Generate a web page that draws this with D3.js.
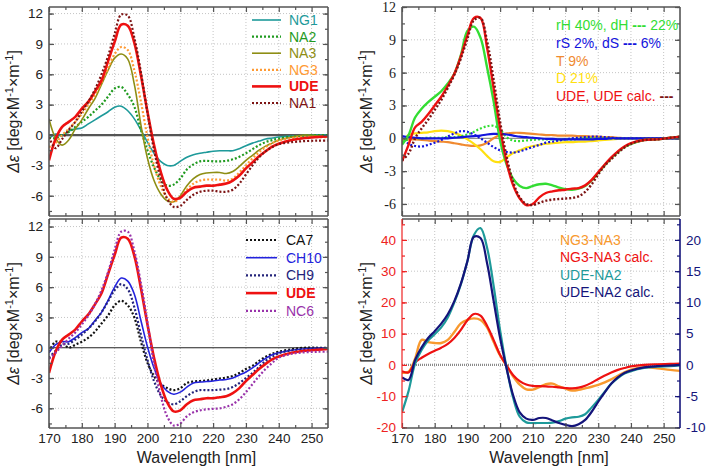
<!DOCTYPE html>
<html>
<head>
<meta charset="utf-8">
<title>CD spectra</title>
<script src="https://cdnjs.cloudflare.com/ajax/libs/d3/7.8.5/d3.min.js"></script>
<style>
    body { margin: 0; background: #fff; }
    svg { display: block; font-family: "Liberation Sans", Arial, sans-serif; }
</style>
</head>
<body>
<svg id="chart" width="706" height="470"></svg>
<script>
// wavelength grid (nm) shared by every series
const WL = [170,172,174,176,178,180,182,184,186,188,190,192,194,196,198,200,202,204,206,208,
            210,212,214,216,218,220,222,224,226,228,230,232,234,236,238,240,244,248,252,255];

// top left panel
const NG1 = [-0.4,0.1,-0.1,0.4,0.6,0.7,1.1,1.5,1.9,2.3, 2.75,2.85,2.4,1.6,0.5,-0.7,-1.8,-2.6,-3.0,-3.0,
             -2.6,-2.2,-1.95,-1.8,-1.7,-1.6,-1.55,-1.55,-1.55,-1.35, -1.05,-0.8,-0.6,-0.4,-0.3,-0.2,-0.1,-0.05,0,0];
const NA2 = [-0.3,-0.3,0.0,0.3,0.8,1.3,1.8,2.4,3.0,3.8, 4.6,4.75,4.0,2.8,0.5,-1.5,-3.2,-4.4,-5.0,-4.9,
             -4.3,-3.4,-2.9,-2.6,-2.55,-2.6,-2.6,-2.55,-2.4,-2.15, -1.8,-1.4,-1.0,-0.7,-0.5,-0.35,-0.15,-0.05,0,0];
const NA3 = [1.6,-0.3,-1.0,-0.5,0.6,1.5,2.6,3.6,5.0,6.4, 7.6,8.0,7.5,5.0,1.0,-2.3,-4.5,-5.8,-6.5,-6.6,
             -6.0,-5.0,-4.3,-3.9,-3.75,-3.7,-3.7,-3.8,-3.6,-3.1, -2.5,-2.0,-1.5,-1.1,-0.8,-0.5,-0.2,0.0,-0.1,-0.15];
const NG3 = [-1.2,-0.8,0.0,0.6,1.3,2.1,3.0,4.0,5.2,6.6, 8.0,8.7,8.4,6.4,3.3,-0.2,-3.0,-5.0,-6.2,-6.6,
             -6.2,-5.4,-4.8,-4.5,-4.4,-4.4,-4.4,-4.5,-4.3,-3.7, -3.0,-2.3,-1.7,-1.2,-0.8,-0.55,-0.3,-0.2,-0.2,-0.2];
const UDE = [-2.5,-0.4,0.8,1.3,1.8,2.6,3.3,4.3,5.4,7.3, 9.2,10.9,10.8,9.1,5.9,2.3,-1.0,-3.6,-5.4,-6.3,
             -6.2,-5.6,-5.2,-5.1,-5.0,-5.0,-4.9,-4.8,-4.5,-4.0, -3.3,-2.7,-2.1,-1.6,-1.15,-0.86,-0.5,-0.3,-0.2,-0.13];
const NA1 = [-0.2,-1.3,-0.4,0.5,1.3,2.3,3.3,4.5,6.0,7.8, 10.0,11.9,11.8,9.6,6.2,2.2,-1.5,-4.3,-6.3,-7.1,
             -7.0,-6.4,-5.9,-5.6,-5.5,-5.5,-5.6,-5.6,-5.4,-4.8, -3.9,-3.0,-2.2,-1.6,-1.2,-0.9,-0.7,-0.6,-0.55,-0.55];

// bottom left panel
const CA7 = [-0.4,0.6,0.5,0.0,0.3,0.6,1.0,1.6,2.4,3.2, 4.2,4.65,4.2,3.0,0.6,-1.5,-2.8,-3.6,-4.0,-4.2,
             -4.0,-3.5,-3.35,-3.3,-3.25,-3.15,-3.05,-2.95,-2.8,-2.5, -2.1,-1.8,-1.3,-0.9,-0.6,-0.4,-0.15,0,0,0];
const CH10 = [-0.5,0.3,0.6,0.6,1.0,1.5,1.9,2.7,3.5,4.7, 6.0,6.9,6.6,5.3,2.7,0.1,-2.0,-3.5,-4.3,-4.6,
              -4.4,-3.9,-3.5,-3.4,-3.35,-3.3,-3.2,-3.15,-3.0,-2.7, -2.4,-2.0,-1.5,-1.05,-0.7,-0.5,-0.25,-0.1,-0.05,-0.05];
const CH9 = [-1.0,-0.3,0.3,0.4,0.8,1.3,1.9,2.6,3.5,4.6, 5.7,6.3,5.8,4.0,1.3,-1.2,-3.3,-4.7,-5.4,-5.6,
             -5.3,-4.8,-4.4,-4.2,-4.2,-4.2,-4.15,-4.1,-3.9,-3.5, -3.0,-2.5,-1.9,-1.3,-0.9,-0.55,-0.25,-0.15,-0.1,-0.1];
const NC6 = [-1.1,-0.5,0.2,0.9,1.5,2.3,3.2,4.3,5.7,7.5, 9.7,11.5,11.5,9.6,6.4,2.5,-1.6,-4.7,-6.8,-7.7,
             -7.5,-6.8,-6.4,-6.2,-6.1,-6.05,-6.0,-5.85,-5.6,-5.1, -4.4,-3.6,-2.8,-2.1,-1.5,-1.0,-0.6,-0.45,-0.4,-0.4];

// top right panel (secondary structure fit)
const UDE_R = [-2.1,-0.6,1.0,1.5,2.2,3.0,3.8,4.8,5.9,7.5, 9.4,11.0,11.0,8.3,4.6,0.9,-2.2,-4.3,-5.5,-6.1,
               -6.0,-5.4,-5.0,-4.85,-4.75,-4.7,-4.6,-4.55,-4.3,-3.8, -3.1,-2.4,-1.75,-1.2,-0.75,-0.45,-0.15,-0.1,0.05,0.15];
const UDE_CALC = [-2.0,-1.4,0.0,0.9,1.7,2.6,3.5,4.6,5.8,7.3, 9.1,10.8,11.0,8.9,5.4,1.5,-1.7,-4.0,-5.4,-6.0,
                  -6.1,-5.9,-5.7,-5.6,-5.55,-5.5,-5.45,-5.3,-4.9,-4.2, -3.3,-2.5,-1.9,-1.35,-0.85,-0.5,-0.15,-0.1,0.05,0.15];
const RH = [-0.6,0.3,1.9,2.7,3.3,3.8,4.3,5.0,5.9,7.6, 9.8,10.2,9.2,6.5,3.4,-0.2,-2.4,-3.7,-4.35,-4.55,
            -4.35,-4.2,-4.15,-4.3,-4.5,-4.65,-4.7,-4.6,-4.35,-3.85, -3.15,-2.45,-1.8,-1.25,-0.8,-0.5,-0.15,-0.1,0.05,0.15];
const DH = [-0.3,-0.1,0.0,0.0,0.05,0.05,0.05,0.1,0.1,0.2, 0.35,0.6,0.9,1.1,1.15,0.8,0.1,-0.2,-0.25,-0.2,
            -0.15,-0.1,-0.1,-0.1,-0.1,-0.1,-0.1,-0.05,0,0, 0,0,0,0,0,0,0,0,0,0];
const RS = [0.2,0.1,0.05,0,0,0,0,0,0.05,0.1, 0.15,0.2,0.25,0.35,0.4,0.4,0.35,0.25,0.15,0.1,
            0.05,0,-0.05,-0.05,-0.1,-0.1,-0.1,-0.1,-0.1,-0.1, -0.05,-0.05,0,0,0,0,0,0,0,0];
const DS = [0.2,-0.5,-0.7,-0.75,-0.6,-0.4,-0.15,0.15,0.45,0.65, 0.6,0.35,0.0,-0.4,-0.8,-1.1,-1.25,-1.3,-1.2,-1.0,
            -0.8,-0.6,-0.4,-0.3,-0.2,-0.1,0,0.05,0.1,0.15, 0.15,0.1,0.05,0,0,0,0,0,0,0];
const TURN = [-0.2,-0.1,-0.1,-0.15,-0.2,-0.25,-0.3,-0.35,-0.45,-0.55, -0.65,-0.7,-0.65,-0.4,0,0.3,0.45,0.5,0.5,0.45,
              0.4,0.35,0.3,0.3,0.25,0.25,0.25,0.2,0.2,0.15, 0.15,0.1,0.1,0.05,0,0,0,0,0,0];
const DIS = [-0.5,0.3,0.45,0.5,0.55,0.65,0.7,0.65,0.5,0.25, -0.1,-0.5,-1.0,-1.6,-2.1,-2.15,-1.75,-1.35,-1.1,-0.85,
             -0.7,-0.6,-0.5,-0.45,-0.4,-0.35,-0.35,-0.3,-0.3,-0.25, -0.2,-0.15,-0.1,-0.05,0,0,0,0,0,0];

// bottom right panel: difference spectra (NG3 pair on left axis, UDE pair on right axis)
const NG3_NA3 = [-2.5,-2.2,2.0,8.0,7.3,7.0,7.0,8.0,10.5,13.3, 14.4,14.9,14.4,12.0,7.4,3.0,-0.3,-3.7,-6.3,-7.8,
                 -7.9,-7.1,-6.2,-6.0,-6.9,-7.6,-8.2,-8.0,-7.5,-7.0, -6.4,-5.6,-4.6,-3.5,-2.4,-1.5,-0.7,-1.1,-1.6,-1.9];
const NG3_NA3_CALC = [-2.0,-2.4,0.8,2.3,3.5,4.5,5.5,6.7,8.6,11.2, 14.3,16.3,15.8,12.5,8.0,3.2,-0.2,-3.3,-5.2,-6.3,
                      -6.7,-6.8,-6.9,-7.0,-7.2,-7.4,-7.5,-7.3,-6.7,-5.7, -4.5,-3.4,-2.4,-1.6,-1.0,-0.5,0.0,0.2,0.3,0.4];
const UDE_NA2 = [-7.6,-4.2,0.2,2.4,3.9,4.9,6.0,7.6,10.0,12.9, 16.6,20.8,21.9,18.8,12.7,5.5,-0.5,-5.3,-8.3,-9.2,
                 -9.3,-9.3,-9.3,-9.25,-9.0,-8.6,-8.4,-8.3,-7.9,-6.8, -5.6,-4.3,-3.0,-2.1,-1.4,-1.0,-0.5,-0.3,-0.2,-0.1];
const UDE_NA2_CALC = [-2.0,-2.4,0.8,2.8,4.3,5.4,6.6,8.1,10.2,13.0, 16.6,20.5,20.3,16.3,10.3,4.3,-0.6,-4.9,-7.6,-8.6,
                      -8.8,-8.5,-8.5,-8.9,-9.3,-9.6,-9.8,-9.5,-8.8,-7.5, -5.9,-4.4,-3.0,-2.0,-1.3,-0.9,-0.4,-0.2,-0.1,0];

const xTicks = [170,180,190,200,210,220,230,240,250];
const xMinorTicks = [175,185,195,205,215,225,235,245];
const yTicksEps = [-6,-3,0,3,6,9,12];
const yTicksLeftBR = [-20,-10,0,10,20,30,40];
const yTicksRightBR = [-10,-5,0,5,10,15,20];

const svg = d3.select("#chart");
const FRAME = "#555";
const SANS = "'Liberation Sans', Arial, sans-serif";
const SERIF = "'Liberation Serif', 'Times New Roman', serif";
let clipId = 0;

function pts(vals) { return WL.map((w, i) => [w, vals[i]]); }

function minor(domain, step) {
    const out = [];
    const start = Math.ceil(domain[0] / step) * step;
    for (let v = start; v <= domain[1] + 1e-9; v += step) out.push(+v.toFixed(3));
    return out;
}

function panel(p) {
    const x = d3.scaleLinear().domain([170, 255]).range([p.left, p.right]);
    const y = d3.scaleLinear().domain(p.yDomain).range([p.bottom, p.top]);
    const g = svg.append("g");

    const cid = "clip" + (clipId++);
    svg.append("clipPath").attr("id", cid).append("rect")
        .attr("x", p.left).attr("y", p.top)
        .attr("width", p.right - p.left).attr("height", p.bottom - p.top);

    // dotted grid
    g.append("g").selectAll("line").data(xTicks.filter(d => d > 170)).join("line")
        .attr("x1", d => x(d)).attr("x2", d => x(d))
        .attr("y1", p.top).attr("y2", p.bottom)
        .attr("stroke", "#c4c4c4").attr("stroke-dasharray", "1,2");
    g.append("g").selectAll("line").data(p.yGrid).join("line")
        .attr("x1", p.left).attr("x2", p.right)
        .attr("y1", d => y(d)).attr("y2", d => y(d))
        .attr("stroke", "#c4c4c4").attr("stroke-dasharray", "1,2");

    // zero line
    g.append("line")
        .attr("x1", p.left).attr("x2", p.right)
        .attr("y1", y(0)).attr("y2", y(0))
        .attr("stroke", p.zero.color).attr("stroke-width", p.zero.width)
        .attr("stroke-dasharray", p.zero.dash || null);

    return { x, y, g, cid };
}

function drawSeries(P, yScale, vals, color, width, dash) {
    const line = d3.line()
        .x(d => P.x(d[0])).y(d => yScale(d[1]))
        .curve(d3.curveCatmullRom.alpha(0.5));
    P.g.append("path")
        .attr("clip-path", `url(#${P.cid})`)
        .attr("d", line(pts(vals)))
        .attr("fill", "none")
        .attr("stroke", color)
        .attr("stroke-width", width)
        .attr("stroke-dasharray", dash || null);
}

function frameAndAxes(P, p) {
    const g = svg.append("g");
    const fmt = d => String(d);
    const axisG = (tx, ty, color) => g.append("g")
        .attr("transform", `translate(${tx},${ty})`).attr("color", color);

    // bottom and top
    const bottom = axisG(0, p.bottom, FRAME)
        .call(d3.axisBottom(P.x).tickValues(xTicks).tickSize(-5).tickPadding(5)
            .tickFormat(p.xLabels ? fmt : ""));
    axisG(0, p.bottom, FRAME)
        .call(d3.axisBottom(P.x).tickValues(xMinorTicks).tickSize(-3).tickFormat(""));
    axisG(0, p.top, FRAME)
        .call(d3.axisTop(P.x).tickValues(xTicks).tickSize(-5).tickFormat(""));
    axisG(0, p.top, FRAME)
        .call(d3.axisTop(P.x).tickValues(xMinorTicks).tickSize(-3).tickFormat(""));
    // left
    const left = axisG(p.left, 0, p.leftColor || FRAME)
        .call(d3.axisLeft(P.y).tickValues(p.yTicks).tickSize(-5).tickPadding(6).tickFormat(fmt));
    axisG(p.left, 0, p.leftColor || FRAME)
        .call(d3.axisLeft(P.y).tickValues(p.yMinor).tickSize(-3).tickFormat(""));
    // right
    const yr = p.yRight || P.y;
    const right = axisG(p.right, 0, p.rightColor || FRAME)
        .call(d3.axisRight(yr).tickValues(p.yRightTicks || p.yTicks).tickSize(-5).tickPadding(6)
            .tickFormat(p.yRight ? fmt : ""));
    axisG(p.right, 0, p.rightColor || FRAME)
        .call(d3.axisRight(yr).tickValues(p.yRightMinor || p.yMinor).tickSize(-3).tickFormat(""));

    g.selectAll(".domain").remove();
    g.selectAll(".tick line").attr("stroke-width", 1.2);
    g.selectAll("text").attr("font-size", 13.5).attr("font-family", SANS);
    bottom.selectAll("text").attr("fill", "#222");
    left.selectAll("text").attr("fill", p.leftColor || "#222")
        .attr("font-family", p.serif ? SERIF : SANS).attr("font-size", p.serif ? 14 : 13.5);
    right.selectAll("text").attr("fill", p.rightColor || "#222");

    // frame
    const fw = 1.6;
    g.append("line").attr("x1", p.left).attr("x2", p.right).attr("y1", p.top).attr("y2", p.top)
        .attr("stroke", FRAME).attr("stroke-width", fw);
    g.append("line").attr("x1", p.left).attr("x2", p.right).attr("y1", p.bottom).attr("y2", p.bottom)
        .attr("stroke", FRAME).attr("stroke-width", fw);
    g.append("line").attr("x1", p.left).attr("x2", p.left).attr("y1", p.top).attr("y2", p.bottom)
        .attr("stroke", p.leftColor || FRAME).attr("stroke-width", p.leftColor ? 1.2 : fw);
    g.append("line").attr("x1", p.right).attr("x2", p.right).attr("y1", p.top).attr("y2", p.bottom)
        .attr("stroke", p.rightColor || FRAME).attr("stroke-width", fw);

    // y title
    const cy = (p.top + p.bottom) / 2;
    const t = svg.append("text")
        .attr("transform", `translate(${p.left - 30},${cy}) rotate(-90)`)
        .attr("text-anchor", "middle")
        .attr("font-size", 16).attr("fill", "#222");
    t.append("tspan").attr("font-style", "italic").text("Δε");
    t.append("tspan").text(" [deg×M");
    t.append("tspan").attr("font-size", 11).attr("dy", -6).text("-1");
    t.append("tspan").attr("dy", 6).text("×m");
    t.append("tspan").attr("font-size", 11).attr("dy", -6).text("-1");
    t.append("tspan").attr("dy", 6).text("]");

    if (p.xLabels) {
        svg.append("text")
            .attr("x", (p.left + p.right) / 2 + 8).attr("y", 463)
            .attr("text-anchor", "middle").attr("font-size", 16).attr("fill", "#222")
            .text("Wavelength [nm]");
    }
}

function lineLegend(items, x0, x1, tx, y0, dy) {
    const g = svg.append("g");
    items.forEach((it, i) => {
        const yy = y0 + i * dy;
        g.append("line").attr("x1", x0).attr("x2", x1).attr("y1", yy).attr("y2", yy)
            .attr("stroke", it.color).attr("stroke-width", it.width).attr("stroke-dasharray", it.dash || null);
        g.append("text").attr("x", tx).attr("y", yy + 5)
            .attr("font-size", 14).attr("fill", it.color)
            .attr("font-weight", it.bold ? "bold" : null)
            .text(it.label);
    });
}

const DOT = "2,2";

// ---------- top left ----------
const pTL = { left: 49, right: 328, top: 7, bottom: 216, yDomain: [-8, 12.65],
              yTicks: yTicksEps, yGrid: [-6,-3,3,6,9,12], yMinor: minor([-8, 12.65], 1.5),
              zero: { color: "#555", width: 2.2 } };
const TL = panel(pTL);
const tlSeries = [
    { label: "NG1", vals: NG1, color: "#1e9a9a", width: 1.6 },
    { label: "NA2", vals: NA2, color: "#1f9a1f", width: 2.2, dash: DOT },
    { label: "NA3", vals: NA3, color: "#8e8e14", width: 1.6 },
    { label: "NG3", vals: NG3, color: "#ff9a33", width: 2.2, dash: DOT },
    { label: "UDE", vals: UDE, color: "#ee1111", width: 2.6, bold: true },
    { label: "NA1", vals: NA1, color: "#7d1414", width: 2.2, dash: DOT }
];
tlSeries.forEach(s => drawSeries(TL, TL.y, s.vals, s.color, s.width, s.dash));
frameAndAxes(TL, pTL);
lineLegend(tlSeries, 252, 281, 289, 20, 16.6);

// ---------- bottom left ----------
const pBL = { left: 49, right: 328, top: 219, bottom: 428, yDomain: [-7.95, 12.75],
              yTicks: yTicksEps, yGrid: [-6,-3,3,6,9,12], yMinor: minor([-7.95, 12.75], 1.5),
              zero: { color: "#222", width: 1.2 }, xLabels: true };
const BL = panel(pBL);
const blSeries = [
    { label: "CA7", vals: CA7, color: "#111111", width: 2.2, dash: DOT },
    { label: "CH10", vals: CH10, color: "#2323dd", width: 1.6 },
    { label: "CH9", vals: CH9, color: "#23237a", width: 2.2, dash: DOT },
    { label: "UDE", vals: UDE, color: "#ee1111", width: 2.6, bold: true },
    { label: "NC6", vals: NC6, color: "#9933aa", width: 2.2, dash: DOT }
];
blSeries.forEach(s => drawSeries(BL, BL.y, s.vals, s.color, s.width, s.dash));
frameAndAxes(BL, pBL);
lineLegend(blSeries, 246, 277, 286, 240, 17.7);

// ---------- top right ----------
const pTR = { left: 402, right: 680, top: 7, bottom: 216, yDomain: [-7.1, 12],
              yTicks: yTicksEps, yGrid: [-6,-3,3,6,9], yMinor: minor([-7.1, 12], 1.5),
              zero: { color: "#777", width: 1 }, serif: true };
const TR = panel(pTR);
drawSeries(TR, TR.y, TURN, "#f08a30", 2.2);
drawSeries(TR, TR.y, DIS, "#ffe010", 2.2);
drawSeries(TR, TR.y, DH, "#33dd33", 2.2, DOT);
drawSeries(TR, TR.y, DS, "#1414dd", 2.2, DOT);
drawSeries(TR, TR.y, RS, "#1414dd", 2.2);
drawSeries(TR, TR.y, RH, "#33dd33", 2.4);
drawSeries(TR, TR.y, UDE_R, "#ee1111", 2.4);
drawSeries(TR, TR.y, UDE_CALC, "#7d1414", 2.4, DOT);
frameAndAxes(TR, pTR);
{
    const lg = svg.append("g").attr("font-size", 14);
    const rows = [
        [["rH 40%, dH ", "#33dd33"], ["---", "#33dd33", true], [" 22%", "#33dd33"]],
        [["rS 2%, dS ", "#1414dd"], ["---", "#1414dd", true], [" 6%", "#1414dd"]],
        [["T 9%", "#f08a30"]],
        [["D 21%", "#ffe010"]],
        [["UDE, UDE calc. ", "#ee1111"], ["---", "#7d1414", true]]
    ];
    rows.forEach((r, i) => {
        const t = lg.append("text").attr("x", 556).attr("y", 30 + i * 17.8);
        r.forEach(seg => t.append("tspan").attr("fill", seg[1])
            .attr("font-weight", seg[2] ? "bold" : null).text(seg[0]));
    });
}

// ---------- bottom right ----------
const pBR = { left: 402, right: 680, top: 219, bottom: 428, yDomain: [-20.2, 46.7],
              yTicks: yTicksLeftBR, yGrid: [-10,10,20,30,40], yMinor: minor([-20.2, 46.7], 5),
              zero: { color: "#8a8a8a", width: 2.2, dash: "1,1" }, xLabels: true,
              leftColor: "#ee2222", rightColor: "#14147a" };
const BR = panel(pBR);
const yRight = d3.scaleLinear().domain([-10.1, 23.35]).range([pBR.bottom, pBR.top]);
pBR.yRight = yRight;
pBR.yRightTicks = yTicksRightBR;
pBR.yRightMinor = minor([-10.1, 23.35], 2.5);
drawSeries(BR, BR.y, NG3_NA3, "#f8992e", 2.4);
drawSeries(BR, BR.y, NG3_NA3_CALC, "#ee1111", 2.2);
drawSeries(BR, yRight, UDE_NA2, "#1e9a9a", 2.2);
drawSeries(BR, yRight, UDE_NA2_CALC, "#14147a", 2.2);
frameAndAxes(BR, pBR);
{
    const lg = svg.append("g").attr("font-size", 14);
    [["NG3-NA3", "#f8992e"], ["NG3-NA3 calc.", "#ee1111"], ["UDE-NA2", "#1e9a9a"], ["UDE-NA2 calc.", "#14147a"]]
        .forEach((r, i) => lg.append("text").attr("x", 560).attr("y", 245 + i * 17.3).attr("fill", r[1]).text(r[0]));
}
</script>
</body>
</html>
